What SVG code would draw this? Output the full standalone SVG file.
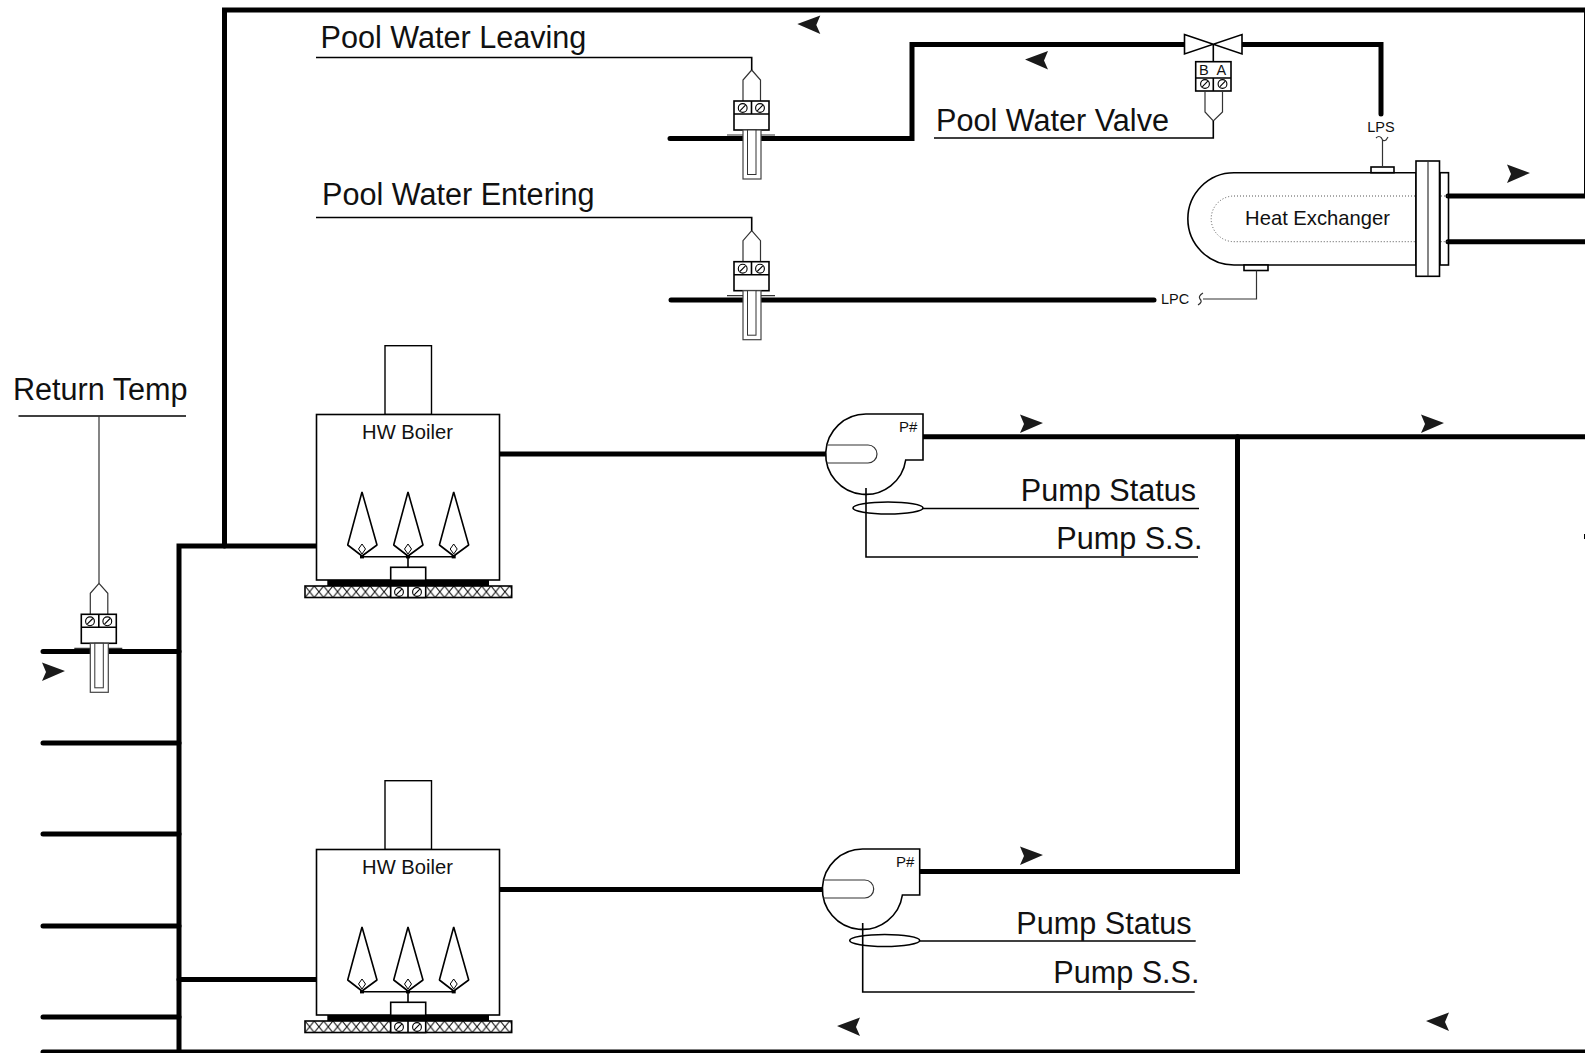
<svg xmlns="http://www.w3.org/2000/svg" width="1585" height="1053" viewBox="0 0 1585 1053">
<style>
text{font-family:"Liberation Sans",Arial,sans-serif;fill:#111}
.lab{font-size:30.600px}
.p{fill:none;stroke:#000;stroke-width:5;stroke-linecap:round;stroke-linejoin:miter}
.l{fill:none;stroke:#000;stroke-width:1.6}
.t{fill:none;stroke:#333;stroke-width:1.2}
.f{fill:#fff;stroke:#000;stroke-width:1.6}
.ar{fill:#1a1a1a}
</style>
<defs>
<pattern id="hatch" width="9.3" height="11.5" patternUnits="userSpaceOnUse" x="305" y="586">
<path d="M0 0L9.3 11.5M9.3 0L0 11.5" stroke="#000" stroke-width="1" fill="none"/>
</pattern>
<g id="screw"><circle r="4.4" fill="#fff" stroke="#000" stroke-width="1.1"/><path d="M-2.8 2.8L2.8 -2.8" stroke="#000" stroke-width="1.1"/></g>
<path id="arL" d="M0 0L23 -8.5L19 1L23 10Z"/>
<g id="sensor">
<path class="t" d="M743 101V80L751.7 70L760.5 80V101"/>
<rect class="f" x="734" y="101" width="35" height="29"/>
<path class="l" d="M734 114H769M751.5 101V114"/>
<use href="#screw" x="742.7" y="108"/><use href="#screw" x="760" y="108"/>
<rect x="743" y="130" width="18" height="49" fill="#fff" stroke="#444" stroke-width="1.2"/>
<rect x="747.5" y="130" width="8.5" height="44.5" fill="#fff" stroke="#333" stroke-width="1"/>
<path class="t" d="M727 135H743M761 135H775"/>
</g>
<g id="boiler">
<rect x="385" y="345.7" width="46.5" height="68.8" fill="#fff" stroke="#000" stroke-width="1.4"/>
<rect x="316.5" y="414.5" width="183" height="165.5" fill="#fff" stroke="#000" stroke-width="1.6"/>
<g id="fl"><path class="l" stroke-linejoin="bevel" d="M362 492L377 545L362 556L347.7 545Z"/><path d="M362 544L365.500 549L362 554L358.500 549Z" fill="#fff" stroke="#000" stroke-width="1"/></g>
<use href="#fl" x="46"/><use href="#fl" x="91.7"/>
<path class="l" d="M362 556.7H453.7M408 556.7V567"/>
<rect x="360" y="555" width="4" height="3.4"/><rect x="406" y="555" width="4" height="3.4"/><rect x="451.7" y="555" width="4" height="3.4"/>
<rect class="f" x="390.7" y="567.3" width="35" height="13"/>
<rect x="327.3" y="580" width="161.7" height="6"/>
<rect x="305" y="586" width="206.7" height="11.5" fill="url(#hatch)" stroke="#000" stroke-width="1.6"/>
<rect class="f" x="390.7" y="586" width="35" height="11.5"/>
<path class="l" d="M408 586V597.5"/>
<use href="#screw" x="399" y="592"/><use href="#screw" x="417" y="592"/>
</g>
<g id="pump">
<path class="f" d="M866 414H923V460H905.7A40.200 40.200 0 1 1 866 414Z"/>
<path class="t" d="M826.500 445H868A9 9 0 0 1 868 463H826.500"/>
<path class="l" d="M866 488V557H1198"/>
</g>
<g id="clamp">
<ellipse cx="888" cy="508" rx="35" ry="6" fill="none" stroke="#000" stroke-width="1.6"/>
<path class="l" d="M923 508.500H1199"/>
</g>
</defs>

<g id="connectors">
<path class="p" d="M1586.500 10H224.500V546"/>
<path class="p" d="M179 1052V546H317"/>
<path class="p" d="M179 979.500H317"/>
<path class="p" d="M1585 1052H43"/>
<path class="p" d="M43 651.500H179M43 743H179M43 834H179M43 926H179M43 1017H179"/>
<path class="p" d="M1586.500 10V196H1448"/>
<path class="p" d="M1585 241.700H1448"/>
<path class="p" d="M670 138.500H912V44.500H1185"/>
<path class="p" d="M1242 44.500H1381V114"/>
<path class="p" d="M671 300H1154"/>
<path class="p" d="M499 454H826"/>
<path class="p" d="M499 889.500H823"/>
<path class="p" d="M923 436.700H1585"/>
<path class="p" d="M1237.500 436.700V871.500H920"/>
<rect x="1584" y="534" width="1" height="5"/>
<g class="ar">
<use href="#arL" x="797.300" y="24"/>
<use href="#arL" x="1025" y="59.600"/>
<use href="#arL" x="837" y="1026"/>
<use href="#arL" x="1426" y="1021"/>
<use href="#arL" transform="translate(1530,173) scale(-1,1)"/>
<use href="#arL" transform="translate(1043,423) scale(-1,1)"/>
<use href="#arL" transform="translate(1444,423) scale(-1,1)"/>
<use href="#arL" transform="translate(1043,855) scale(-1,1)"/>
<use href="#arL" transform="translate(65,671) scale(-1,1)"/>
</g>
</g>

<g id="pool-water-leaving">
<use href="#sensor"/>
<path class="l" d="M316 57.500H751.700V70"/>
<text class="lab" x="320.500" y="48">Pool Water Leaving</text>
</g>
<g id="pool-water-entering">
<use href="#sensor" y="160.700"/>
<path class="l" d="M316 217.500H751.700V230.700"/>
<text class="lab" x="322" y="205">Pool Water Entering</text>
</g>
<g id="return-temp">
<use href="#sensor" x="-652.700" y="513.300"/>
<path class="l" d="M18.500 416H186"/>
<path class="t" d="M99 416V583.300"/>
<text class="lab" x="13" y="400">Return Temp</text>
</g>

<g id="pool-water-valve">
<path class="f" d="M1184.500 34.500L1242 54V34.500L1184.500 54Z"/>
<path class="l" d="M1213.300 44V62"/>
<rect class="f" x="1195.700" y="61.700" width="35.300" height="29.300"/>
<path class="l" d="M1195.700 78H1231M1213.300 78V91"/>
<text x="1199" y="75" font-size="14.500">B</text><text x="1216.500" y="75" font-size="14.500">A</text>
<use href="#screw" x="1205" y="84"/><use href="#screw" x="1222.500" y="84"/>
<path class="t" d="M1205 91V112L1213.300 121L1222.500 112V91"/>
<path class="l" d="M1213.300 121V138H934"/>
<text class="lab" x="936" y="131">Pool Water Valve</text>
</g>

<g id="heat-exchanger">
<path class="f" d="M1416 172.700H1234A46.150 46.150 0 0 0 1234 265H1416Z"/>
<path d="M1448 196H1234A22.850 22.850 0 0 0 1234 241.700H1448" fill="none" stroke="#555" stroke-width="1" stroke-dasharray="1 2"/>
<rect class="f" x="1440" y="172.700" width="8.500" height="92.300" style="fill:none"/>
<rect class="f" x="1416" y="161" width="23.500" height="115.300"/>
<path class="t" d="M1428 161V276.300"/>
<rect class="f" x="1371" y="167" width="23" height="5.700"/>
<rect class="f" x="1244" y="265" width="24" height="5.500"/>
<path class="t" d="M1382.500 167V140M1256.500 270.500V299H1203"/>
<path class="t" d="M1376 138Q1379 135 1381.500 138Q1383 142 1386 140L1388 137M1203 293Q1198 296 1200 299Q1203 302 1198 305"/>
<text x="1317.500" y="225" font-size="20.200" text-anchor="middle">Heat Exchanger</text>
<text x="1381" y="132" font-size="14.500" text-anchor="middle">LPS</text>
<text x="1161" y="304" font-size="14.500">LPC</text>
</g>

<g id="boiler-1">
<use href="#boiler"/>
<text x="407.500" y="439" font-size="20.200" text-anchor="middle">HW Boiler</text>
</g>
<g id="boiler-2">
<use href="#boiler" y="435"/>
<text x="407.500" y="874" font-size="20.200" text-anchor="middle">HW Boiler</text>
</g>

<g id="pump-1">
<use href="#pump"/>
<use href="#clamp"/>
<text x="899" y="432" font-size="15">P#</text>
<text class="lab" x="1196" y="501" text-anchor="end">Pump Status</text>
<text class="lab" x="1202.500" y="549" text-anchor="end">Pump S.S.</text>
</g>
<g id="pump-2">
<use href="#pump" x="-3.300" y="435"/>
<use href="#clamp" x="-3.300" y="432.500"/>
<text x="896" y="867" font-size="15">P#</text>
<text class="lab" x="1191.500" y="934" text-anchor="end">Pump Status</text>
<text class="lab" x="1199.500" y="983" text-anchor="end">Pump S.S.</text>
</g>
</svg>
